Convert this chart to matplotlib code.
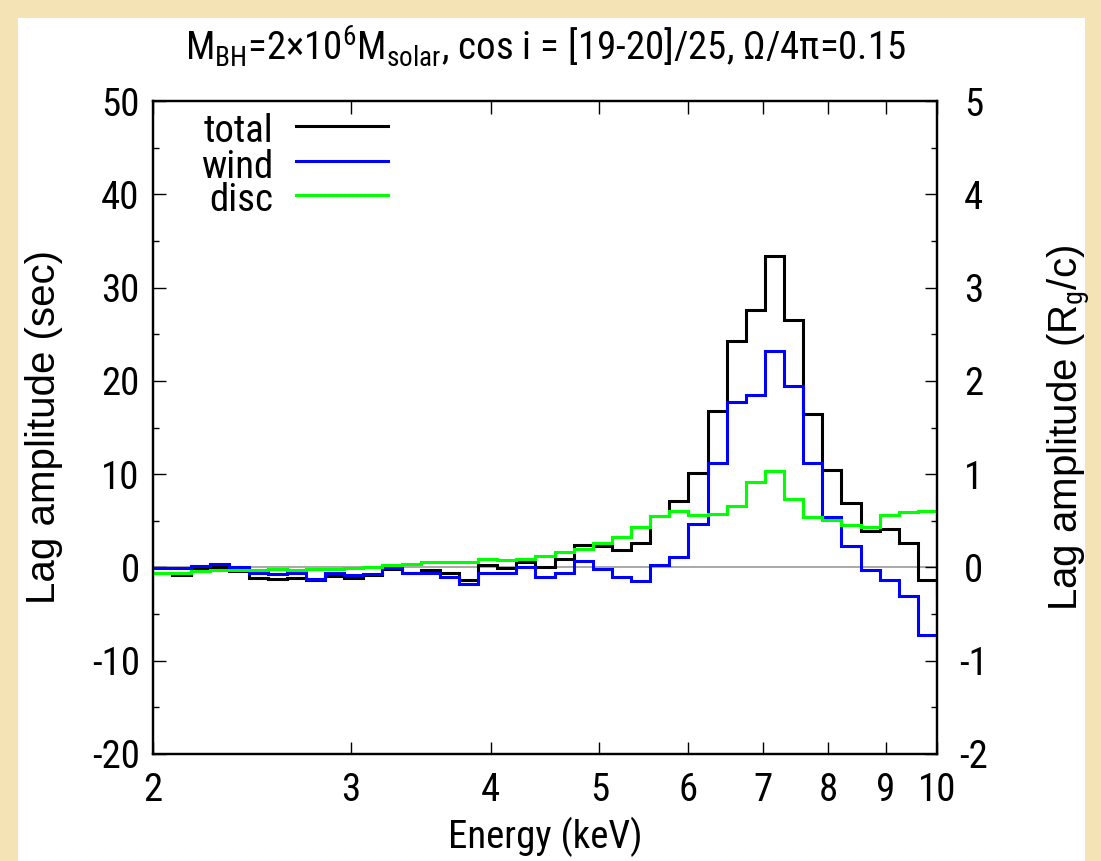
import numpy as np
import matplotlib
matplotlib.use("Agg")
import matplotlib.pyplot as plt
from matplotlib import font_manager
from matplotlib.font_manager import FontProperties
from matplotlib.textpath import TextPath
from matplotlib.patches import Rectangle
from matplotlib.lines import Line2D
from matplotlib.ticker import FixedLocator, FixedFormatter, MultipleLocator, NullLocator

# Pick a narrow sans face for horizontal text when one is available
entries = font_manager.fontManager.ttflist
names = {f.name for f in entries}
narrow_family, narrow_stretch = "Liberation Sans", "normal"
for fam in ["Liberation Sans Narrow", "Arial Narrow", "Roboto Condensed",
            "Noto Sans Condensed", "Open Sans Condensed"]:
    if fam in names:
        narrow_family, narrow_stretch = fam, "normal"
        break
else:
    for fam in ["Noto Sans", "Open Sans"]:
        if any(f.name == fam and f.stretch in ("condensed", "semi-condensed")
               for f in entries):
            narrow_family, narrow_stretch = fam, "condensed"
            break

plt.rcParams['font.family'] = [narrow_family, 'DejaVu Sans']
plt.rcParams['font.stretch'] = narrow_stretch
plt.rcParams['mathtext.fontset'] = 'custom'
plt.rcParams['mathtext.rm'] = f"{narrow_family}:stretch={narrow_stretch}"
plt.rcParams['mathtext.it'] = f"{narrow_family}:italic:stretch={narrow_stretch}"
plt.rcParams['axes.unicode_minus'] = False

# Energy binning: 41 logarithmic bins from 2 keV, plus one bin just past 10 keV
e_min = 2.0
n_bins = 41
bin_ratio = 5.0 ** (1.0 / n_bins)
edges = e_min * bin_ratio ** np.arange(n_bins + 2)

# Lag amplitude (sec) per energy bin
lag_total = [-0.65, -0.85, -0.2, 0.0, -0.4, -1.1, -1.2, -1.1, -1.4, -0.95,
             -1.1, -0.8, -0.2, -0.6, -0.3, -0.55, -1.35, 0.3, -0.1, 0.6,
             0.05, 0.85, 2.4, 2.3, 1.9, 2.6, 5.5, 7.1, 10.1, 16.8,
             24.3, 27.6, 33.4, 26.5, 16.4, 10.4, 6.9, 3.95, 4.1, 2.65,
             -1.3, -2.8]
lag_wind = [-0.05, -0.05, 0.2, 0.4, 0.0, -0.65, -0.7, -0.65, -1.2, -0.6,
            -0.8, -0.7, -0.1, -0.6, -0.65, -1.0, -1.75, -0.6, -0.65, 0.0,
            -1.05, -0.6, 0.7, -0.2, -1.0, -1.5, 0.25, 1.15, 4.7, 11.2,
            17.75, 18.5, 23.2, 19.4, 11.2, 5.4, 2.35, -0.25, -1.35, -3.05,
            -7.25, -9.7]
lag_disc = [-0.6, -0.6, -0.35, -0.3, -0.3, -0.25, -0.2, -0.25, -0.2, -0.2,
            -0.1, 0.0, 0.25, 0.4, 0.55, 0.6, 0.6, 0.95, 0.8, 0.95,
            1.2, 1.7, 2.0, 2.6, 3.3, 4.3, 5.5, 6.0, 5.6, 5.7,
            6.6, 9.2, 10.3, 7.3, 5.4, 5.1, 4.5, 4.35, 5.6, 5.9,
            6.05, 6.9]

series_names = ["total", "wind", "disc"]
series_colors = ["#000000", "#0000ff", "#00ff00"]

x_ticks = [2, 3, 4, 5, 6, 7, 8, 9, 10]
y_left_ticks = [-20, -10, 0, 10, 20, 30, 40, 50]
y_right_ticks = [-2, -1, 0, 1, 2, 3, 4, 5]

x_label = "Energy (keV)"
title = ("M$_{\\rm BH}$=2\u00d710$^{6}$M$_{\\rm solar}$, cos i = [19-20]/25, "
         "\u03a9/4\u03c0=0.15")

W, H = 1101, 861
PX = 100 / 72  # pixels per point

# Size horizontal text so that the axis title spans about 189 px, capped in height
hprop = FontProperties(family=narrow_family, stretch=narrow_stretch)
w_10 = TextPath((0, 0), x_label, size=10, prop=hprop).get_extents().width * PX
cap_10 = TextPath((0, 0), "E", size=10, prop=hprop).get_extents().height * PX
fs = min(189.0 / w_10 * 10, 29.0 / cap_10 * 10)
fs_v = 29

fig = plt.figure(figsize=(W / 100, H / 100), dpi=100)
fig.patch.set_facecolor("#f4e3b4")
fig.patches.append(Rectangle((18 / W, 0), (1085 - 18) / W, 1 - 18 / H,
                             transform=fig.transFigure, facecolor="white",
                             edgecolor="none", zorder=-10))

ax = fig.add_axes([153 / W, 1 - 754 / H, (937 - 153) / W, (754 - 101) / H])
ax.set_xscale("log")
ax.set_xlim(2, 10)
ax.set_ylim(-20, 50)

ax.axhline(0, color="#9a9a9a", lw=1.2, zorder=1)
for vals, col, z in zip([lag_total, lag_wind, lag_disc], series_colors, [2, 3, 4]):
    ax.stairs(vals, edges, baseline=None, color=col, lw=2.2, zorder=z)

ax.xaxis.set_major_locator(FixedLocator(x_ticks))
ax.xaxis.set_major_formatter(FixedFormatter([str(v) for v in x_ticks]))
ax.xaxis.set_minor_locator(NullLocator())
ax.yaxis.set_major_locator(FixedLocator(y_left_ticks))
ax.yaxis.set_minor_locator(MultipleLocator(5))
ax.tick_params(axis="both", which="major", direction="in", length=9, width=1.0,
               labelsize=fs, top=True, right=False)
ax.tick_params(axis="x", which="major", pad=(801 - 754) / PX)
for t in ax.get_xticklabels():
    t.set_verticalalignment("baseline")
ax.tick_params(axis="y", which="major", pad=9.5)
ax.tick_params(axis="both", which="minor", direction="in", length=4.5, width=1.0,
               top=True, right=False)
for s in ax.spines.values():
    s.set_linewidth(1.6)

ax2 = ax.twinx()
ax2.set_ylim(-2, 5)
ax2.yaxis.set_major_locator(FixedLocator(y_right_ticks))
ax2.yaxis.set_minor_locator(MultipleLocator(0.5))
ax2.tick_params(axis="y", which="major", direction="in", length=9, width=1.0,
                labelsize=fs, pad=26.5)
ax2.tick_params(axis="y", which="minor", direction="in", length=4.5, width=1.0)
for t in ax2.get_yticklabels():
    t.set_horizontalalignment("center")
for s in ax2.spines.values():
    s.set_linewidth(1.6)

ax.set_xlabel(x_label, fontsize=fs)
ax.xaxis.label.set_verticalalignment("baseline")
ax.xaxis.set_label_coords(0.5, (754 - 848) / 653)
ax.set_ylabel("Lag amplitude (sec)", fontsize=fs_v, family="Liberation Sans",
              stretch="normal")
ax.yaxis.set_label_coords(-0.115, 0.5)
ax2.set_ylabel("Lag amplitude (R$_{\\rm g}$/c)", fontsize=fs_v,
               family="Liberation Sans", stretch="normal")
ax2.yaxis.set_label_coords(1.1385, 0.5)

fig.text(545 / W, 1 - 60 / H, title, ha="center", va="baseline", fontsize=fs)

# Key: right-aligned names followed by line samples
key_y = [0.9587, 0.905, 0.853]
for name, col, ky in zip(series_names, series_colors, key_y):
    ax.text(0.153, ky, name, transform=ax.transAxes, ha="right",
            va="center_baseline", fontsize=fs, zorder=6)
    ax.add_line(Line2D([0.182, 0.30], [ky + 0.003, ky + 0.003],
                       transform=ax.transAxes, color=col, lw=2.2, zorder=6))

fig.savefig("out.png", dpi=100, facecolor=fig.get_facecolor())
